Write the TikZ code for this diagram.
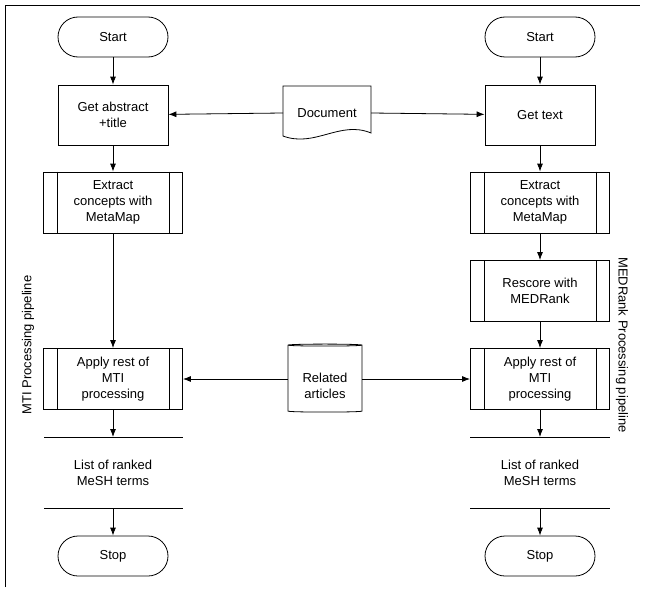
\documentclass[tikz,border=0pt]{standalone}
\usepackage{fontspec}
\setmainfont{Liberation Sans}
\usetikzlibrary{shapes.geometric,arrows.meta,calc}
\begin{document}
\begin{tikzpicture}[x=1pt,y=-1pt,line width=0.8pt,
  every node/.style={font=\fontsize{13}{16}\selectfont,align=center},
  term/.style={draw,rounded corners=20pt,minimum width=110pt,minimum height=40pt},
  proc/.style={draw,minimum width=110pt,minimum height=60pt},
  sub/.style={draw,minimum width=139pt,minimum height=61pt},
  arr/.style={-{Latex[length=8pt,width=6pt]}}]
\useasboundingbox (0,0) rectangle (645,594);
\draw[line width=0.6pt] (5,587) -- (5,5) -- (640,5);
% left
\node[term] (s1) at (113,37) {Start};
\node[proc] (g1) at (113,115) {Get abstract\\+title};
\node[sub] (e1) at (113,202.5) {Extract\\concepts with\\MetaMap};
\node[sub] (a1) at (113,379) {Apply rest of\\MTI\\processing};
\node (l1) at (113,473) {List of ranked\\MeSH terms};
\node[term] (t1) at (113,556) {Stop};
\coordinate (l1t) at (113,437); \coordinate (l1b) at (113,508);
% right
\node[term] (s2) at (540,37) {Start};
\node[proc] (g2) at (540,115) {Get text};
\node[sub] (e2) at (540,202.5) {Extract\\concepts with\\MetaMap};
\node[sub] (r2) at (540,291) {Rescore with\\MEDRank};
\node[sub] (a2) at (540,379) {Apply rest of\\MTI\\processing};
\node (l2) at (540,473) {List of ranked\\MeSH terms};
\node[term] (t2) at (540,556) {Stop};
\coordinate (l2t) at (540,437); \coordinate (l2b) at (540,508);
% subroutine inner lines
\foreach \n in {e1,a1,e2,r2,a2}{
  \draw ($(\n.north west)+(14,0)$) -- ($(\n.south west)+(14,0)$);
  \draw ($(\n.north east)+(-14,0)$) -- ($(\n.south east)+(-14,0)$);}
% list lines
\draw (44,437) -- (183,437); \draw (44,508) -- (183,508);
\draw (470,437) -- (610,437); \draw (470,508) -- (610,508);
% document
\node (doc) at (327,113) {Document};
\draw (283,86) -- (371,86) -- (371,133) .. controls (340,120) and (315,148) .. (283,136) -- cycle;
\coordinate (docL) at (283,113); \coordinate (docR) at (371,113);
% related articles
\node[draw,cylinder,shape border rotate=90,aspect=0.3,minimum width=74pt,minimum height=68pt] (rel) at (325,379) {};
\node at (325,386) {Related\\articles};
% arrows
\draw[arr] (s1) -- (g1); \draw[arr] (g1) -- (e1); \draw[arr] (e1) -- (a1);
\draw[arr] (a1) -- (l1t); \draw[arr] (l1b) -- (t1);
\draw[arr] (s2) -- (g2); \draw[arr] (g2) -- (e2); \draw[arr] (e2) -- (r2);
\draw[arr] (r2) -- (a2); \draw[arr] (a2) -- (l2t); \draw[arr] (l2b) -- (t2);
\draw[arr] (docL) -- (g1); \draw[arr] (docR) -- (g2);
\draw[arr] (rel.west |- a1) -- (a1); \draw[arr] (rel.east |- a2) -- (a2);
% side labels
\node[rotate=90] at (28,345) {MTI Processing pipeline};
\node[rotate=-90] at (622,345) {MEDRank Processing pipeline};
\end{tikzpicture}
\end{document}
